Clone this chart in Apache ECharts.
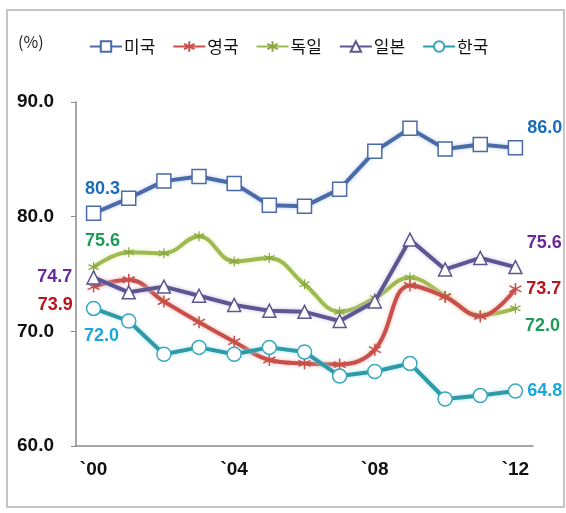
<!DOCTYPE html>
<html>
<head>
<meta charset="utf-8">
<script src="https://cdn.jsdelivr.net/npm/echarts@6/dist/echarts.min.js"></script>
<style>
  html, body { margin: 0; padding: 0; background: #fff; }
  #chart { width: 566px; height: 513px; }
</style>
</head>
<body>
<div id="chart"></div>
<script>
// 연도 (x축)
var years = ['`00', '`01', '`02', '`03', '`04', '`05', '`06', '`07', '`08', '`09', '`10', '`11', '`12']
// 고용률 (%)
var usa     = [80.3, 81.6, 83.1, 83.5, 82.9, 81.0, 80.9, 82.4, 85.7, 87.7, 85.9, 86.3, 86.0]
var uk      = [73.9, 74.5, 72.6, 70.8, 69.1, 67.5, 67.2, 67.1, 68.4, 74.0, 73.0, 71.3, 73.7]
var germany = [75.6, 76.9, 76.8, 78.3, 76.1, 76.4, 74.1, 71.7, 72.9, 74.7, 73.1, 71.4, 72.0]
var japan   = [74.7, 73.4, 73.9, 73.1, 72.3, 71.8, 71.7, 70.9, 72.6, 78.0, 75.4, 76.4, 75.6]
var korea   = [72.0, 70.9, 68.0, 68.6, 68.0, 68.6, 68.2, 66.1, 66.5, 67.2, 64.1, 64.4, 64.8]
var yTicks  = [60, 70, 80, 90]

var numFont = '"Liberation Sans", Arial, sans-serif'
var krFont = '"Noto Sans CJK KR", sans-serif'
var asterisk = 'path://M0,-10L0,10M-8.7,-5L8.7,5M-8.7,5L8.7,-5'

// 처음/끝 값 라벨 붙이기
function withLabels(arr, color, first, last){
  return arr.map(function(v, i){
    var lab = null
    if (i === 0) lab = first
    if (i === arr.length - 1) lab = last
    if (!lab) return v
    return {
      value: v,
      label: Object.assign({
        show: true,
        color: color,
        fontFamily: numFont,
        fontWeight: 'bold',
        fontSize: 18,
        formatter: function(p){ return p.value.toFixed(1) }
      }, lab)
    }
  })
}

function glow(c){
  return { shadowColor: c, shadowBlur: 4 }
}

var chart = echarts.init(document.getElementById('chart'))
chart.setOption({
  animation: false,
  textStyle: { fontFamily: numFont },
  graphic: [
    {
      type: 'rect', shape: { x: 7, y: 10, width: 557, height: 497 },
      style: { fill: 'none', stroke: '#c4c4c4', lineWidth: 2 }
    },
    {
      type: 'text', left: 18, top: 34,
      style: { text: '(%)', fontSize: 16, fill: '#222', fontFamily: krFont }
    }
  ],
  legend: {
    top: 33, left: 84,
    itemWidth: 32, itemHeight: 13, itemGap: 17,
    textStyle: { fontSize: 17, color: '#111', fontFamily: krFont, padding: [0, 0, 0, -3] },
    data: ['미국', '영국', '독일', '일본', '한국']
  },
  grid: { left: 76, right: 33, top: 102, bottom: 67 },
  xAxis: {
    type: 'category',
    data: years,
    boundaryGap: true,
    axisLine: { lineStyle: { color: '#8a8a8a', width: 1.5 } },
    axisTick: { interval: 0, length: 6, lineStyle: { color: '#8a8a8a' } },
    axisLabel: {
      interval: 3, margin: 14, color: '#111',
      fontSize: 19, fontWeight: 'bold', fontFamily: numFont
    }
  },
  yAxis: {
    type: 'value',
    min: yTicks[0], max: yTicks[yTicks.length - 1], interval: 10,
    splitLine: { show: false },
    axisLine: { show: true, lineStyle: { color: '#8a8a8a', width: 1.5 } },
    axisTick: { show: true, length: 5, lineStyle: { color: '#8a8a8a' } },
    axisLabel: {
      margin: 22, color: '#111', fontSize: 19, fontWeight: 'bold', fontFamily: numFont,
      formatter: function(v){ return v.toFixed(1) }
    }
  },
  series: [
    {
      name: '미국', type: 'line',
      data: withLabels(usa, '#1a6cb8',
        { position: 'top', offset: [9, -2] },
        { position: 'right', distance: 4, offset: [0, -20] }),
      symbol: 'rect', symbolSize: 14,
      lineStyle: Object.assign({ color: '#4a6aa8', width: 4 }, glow('#b8cbe8')),
      itemStyle: { color: '#fff', borderColor: '#4a6aa8', borderWidth: 1.5 },
      z: 5
    },
    {
      name: '영국', type: 'line', smooth: 0.4,
      data: withLabels(uk, '#b8141a',
        { position: 'left', distance: 14, offset: [0, 18] },
        { position: 'right', distance: 4 }),
      symbol: asterisk, symbolSize: 12,
      lineStyle: Object.assign({ color: '#c8504a', width: 4 }, glow('#f0b8b4')),
      itemStyle: { color: '#c8504a', borderColor: '#c8504a', borderWidth: 1.5 },
      z: 3
    },
    {
      name: '독일', type: 'line', smooth: 0.4,
      data: withLabels(germany, '#1f9a58',
        { position: 'top', offset: [9, -6] },
        { position: 'right', distance: 4, offset: [0, 18] }),
      symbol: asterisk, symbolSize: 10,
      lineStyle: Object.assign({ color: '#9fba52', width: 4 }, glow('#e2edb8')),
      itemStyle: { color: '#9fba52', borderColor: '#8aa640', borderWidth: 1.2 },
      z: 2
    },
    {
      name: '일본', type: 'line',
      data: withLabels(japan, '#6a2a9a',
        { position: 'left', distance: 14 },
        { position: 'right', distance: 4, offset: [0, -24] }),
      symbol: 'triangle', symbolSize: 13,
      lineStyle: Object.assign({ color: '#5e5690', width: 4 }, glow('#c8c2e2')),
      itemStyle: { color: '#fff', borderColor: '#5e5690', borderWidth: 1.5 },
      z: 4
    },
    {
      name: '한국', type: 'line',
      data: withLabels(korea, '#1aa8dc',
        { position: 'bottom', offset: [8, 6] },
        { position: 'right', distance: 4 }),
      symbol: 'circle', symbolSize: 14,
      lineStyle: Object.assign({ color: '#2e9aa6', width: 4 }, glow('#a8e4f0')),
      itemStyle: { color: '#fff', borderColor: '#3aa6c0', borderWidth: 1.5 },
      z: 4
    }
  ]
})
</script>
</body>
</html>
